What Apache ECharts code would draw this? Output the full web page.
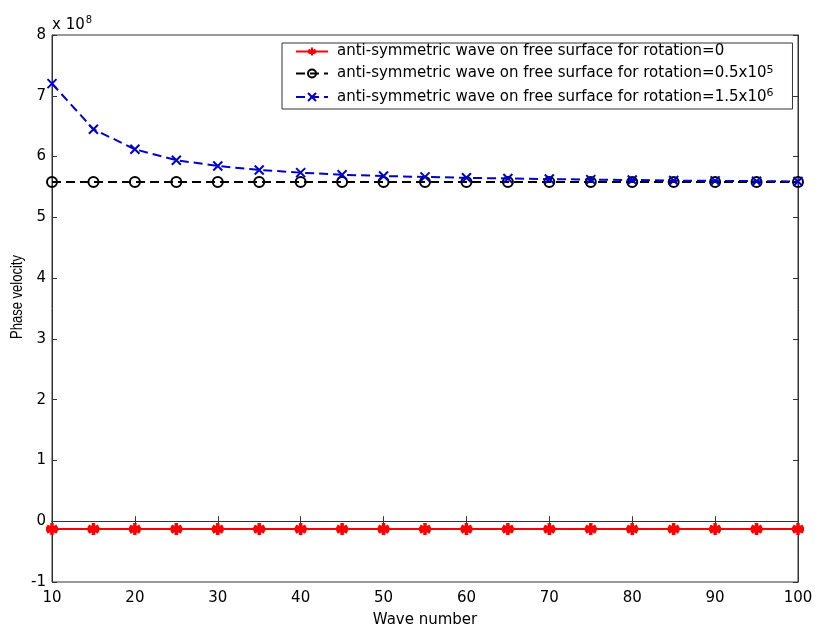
<!DOCTYPE html>
<html>
<head>
<meta charset="utf-8">
<script src="https://cdn.jsdelivr.net/npm/echarts@6/dist/echarts.min.js"></script>
<style>
html,body{margin:0;padding:0;background:#fff;}
#c{width:815px;height:630px;}
</style>
</head>
<body>
<div id="c"></div>
<script>
// Data (values in units of 1e8)
const waveNumbers = [10,15,20,25,30,35,40,45,50,55,60,65,70,75,80,85,90,95,100];
const rot0 = [-0.13,-0.13,-0.13,-0.13,-0.13,-0.13,-0.13,-0.13,-0.13,-0.13,-0.13,-0.13,-0.13,-0.13,-0.13,-0.13,-0.13,-0.13,-0.13];
const rot05e5 = [5.58,5.58,5.58,5.58,5.58,5.58,5.58,5.58,5.58,5.58,5.58,5.58,5.58,5.58,5.58,5.58,5.58,5.58,5.58];
const rot15e6 = [7.2,6.45,6.12,5.94,5.845,5.78,5.735,5.70,5.68,5.665,5.65,5.64,5.63,5.62,5.615,5.605,5.60,5.595,5.59];
const seriesNames = [
  'anti-symmetric wave on free surface for rotation=0',
  'anti-symmetric wave on free surface for rotation=0.5x10',
  'anti-symmetric wave on free surface for rotation=1.5x10'
];
const superscripts = ['', '5', '6'];
const xTicks = [10,20,30,40,50,60,70,80,90,100];
const yTicks = [-1,0,1,2,3,4,5,6,7,8];
const xName = 'Wave number';
const yName = 'Phase velocity';

const FONT = '"DejaVu Sans", sans-serif';
const FS = 15;
const pair = arr => waveNumbers.map((x,i)=>[x,arr[i]]);

const asterisk = 'path://M0,-5L0,5M-4.33,-2.5L4.33,2.5M-4.33,2.5L4.33,-2.5M-5,0L5,0';
const cross = 'path://M-1,-1L1,1M-1,1L1,-1';

const chart = echarts.init(document.getElementById('c'), null, {renderer:'canvas'});
const axisLineStyle = {color:'#333', width:1};
const gridPos = {left:52, right:17, top:35, bottom:48};

chart.setOption({
  animation:false,
  backgroundColor:'#fff',
  grid: Object.assign({show:true, borderColor:'#333', borderWidth:1, backgroundColor:'#fff', containLabel:false, outerBoundsMode:'none'}, gridPos),
  xAxis:[{
    type:'value', min:10, max:100, interval:10, position:'bottom',
    name:xName, nameLocation:'middle', nameGap:31,
    nameTextStyle:{fontFamily:FONT, fontSize:FS, color:'#000'},
    axisLine:{show:true, lineStyle:axisLineStyle},
    axisTick:{show:true, inside:true, length:5, lineStyle:axisLineStyle},
    axisLabel:{fontFamily:FONT, fontSize:FS, color:'#000', margin:9,
      formatter: v => xTicks.includes(v) ? String(v) : ''},
    splitLine:{show:false}
  },{
    type:'value', min:10, max:100, interval:10, position:'top',
    axisLine:{show:true, lineStyle:axisLineStyle},
    axisTick:{show:true, inside:true, length:5, lineStyle:axisLineStyle},
    axisLabel:{show:false}, splitLine:{show:false}
  }],
  yAxis:[{
    type:'value', min:-1, max:8, interval:1, position:'left',
    axisLine:{show:true, lineStyle:axisLineStyle},
    axisTick:{show:true, inside:true, length:5, lineStyle:axisLineStyle},
    axisLabel:{fontFamily:FONT, fontSize:FS, color:'#000', margin:6,
      formatter: v => yTicks.includes(v) ? String(v) : ''},
    splitLine:{show:false}
  },{
    type:'value', min:-1, max:8, interval:1, position:'right',
    axisLine:{show:true, lineStyle:axisLineStyle},
    axisTick:{show:true, inside:true, length:5, lineStyle:axisLineStyle},
    axisLabel:{show:false}, splitLine:{show:false}
  }],
  legend:{
    show:true, orient:'vertical', left:282, top:43,
    backgroundColor:'#fff', borderColor:'#333', borderWidth:1, borderRadius:0,
    padding:[1,19,3,13], itemGap:5.5, itemWidth:32, itemHeight:10,
    textStyle:{fontFamily:FONT, fontSize:FS, color:'#000',
      rich:{
        n:{fontFamily:FONT, fontSize:FS, color:'#000', lineHeight:18, padding:[0,0,0,4]},
        s:{fontFamily:FONT, fontSize:11, color:'#000', verticalAlign:'top', padding:[0,0,7,0], lineHeight:18}
      }},
    formatter: name => {
      const i = seriesNames.indexOf(name);
      return '{n|' + name + '}' + (superscripts[i] ? '{s|' + superscripts[i] + '}' : '');
    },
    data: seriesNames
  },
  graphic:[{
    type:'text', left:52, top:15,
    style:{
      text:'{a|x 10}{b|8}',
      rich:{
        a:{fontFamily:FONT, fontSize:FS, fill:'#000', lineHeight:20},
        b:{fontFamily:FONT, fontSize:10, fill:'#000', verticalAlign:'top', padding:[0,0,9,1], lineHeight:20}
      }
    }
  },{
    type:'text', x:18, y:297, rotation:Math.PI/2, scaleY:1.25,
    style:{text:yName, fontFamily:'"Liberation Sans", Arial, sans-serif', fontSize:13, fill:'#000', align:'center', verticalAlign:'middle'}
  }],
  series:[{
    name:seriesNames[0], type:'line', data:pair(rot0),
    symbol:asterisk, symbolSize:12, showAllSymbol:true,
    lineStyle:{color:'#ff0000', width:2, type:'solid'},
    itemStyle:{color:'#ff0000', borderColor:'#ff0000', borderWidth:3.5},
    emphasis:{disabled:true}, z:3
  },{
    name:seriesNames[1], type:'line', data:pair(rot05e5),
    symbol:'circle', symbolSize:10, showAllSymbol:true,
    lineStyle:{color:'#000', width:2, type:[9,5]},
    itemStyle:{color:'rgba(0,0,0,0)', borderColor:'#000', borderWidth:2},
    emphasis:{disabled:true}, z:4
  },{
    name:seriesNames[2], type:'line', data:pair(rot15e6),
    symbol:cross, symbolSize:9, showAllSymbol:true,
    lineStyle:{color:'#0000cc', width:2, type:[9,5]},
    itemStyle:{color:'#0000cc', borderColor:'#0000cc', borderWidth:2},
    emphasis:{disabled:true}, z:5
  }]
});
</script>
</body>
</html>
